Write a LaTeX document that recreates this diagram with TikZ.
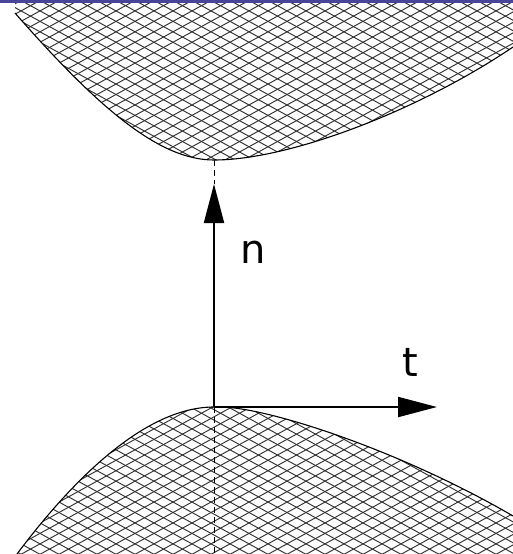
\documentclass[tikz,border=0pt]{standalone}
\usepackage{fontspec}
\newfontfamily\labelfont{DejaVu Sans}
\usetikzlibrary{arrows.meta}
\definecolor{barpurple}{RGB}{74,68,152}
\begin{document}
\begin{tikzpicture}[x=1pt,y=-1pt,
  hatchline/.style={line width=0.95pt, black!80},
  boundary/.style={line width=1.1pt},
  axisarrow/.style={line width=2pt, -{Triangle[length=39pt,width=20pt]}},
  guide/.style={line width=0.8pt, dash pattern=on 6pt off 4pt},
  lab/.style={font=\labelfont\fontsize{40}{48}\selectfont, inner sep=0pt}]
\useasboundingbox (0,0) rectangle (513,554);
% upper hatched region
\begin{scope}
\clip (15,0) -- (15,13) .. controls (100,110) and (160,160) .. (214,160)
      .. controls (290,160) and (420,110) .. (513,47) -- (513,0) -- cycle;
\foreach \c in {-1100,-1081,...,1600} {
  \draw[hatchline] (\c,-10) -- ++(1100,605);
  \draw[hatchline] (\c,-10) -- ++(-1100,605);
}
\end{scope}
% lower hatched region
\begin{scope}
\clip (17,554) .. controls (80,470) and (150,407) .. (214,407)
      .. controls (260,404) and (400,450) .. (513,516) -- (513,554) -- cycle;
\foreach \c in {-1100,-1081,...,1600} {
  \draw[hatchline] (\c,-10) -- ++(1100,605);
  \draw[hatchline] (\c,-10) -- ++(-1100,605);
}
\end{scope}
% boundaries
\draw[boundary] (15,13) .. controls (100,110) and (160,160) .. (214,160)
      .. controls (290,160) and (420,110) .. (513,47);
\draw[boundary] (17,554) .. controls (80,470) and (150,407) .. (214,407)
      .. controls (260,404) and (400,450) .. (513,516);
% points
\coordinate (top) at (214,160);
\coordinate (O) at (214,407);
\coordinate (ntip) at (214,184);
\coordinate (ttip) at (437,407);
\coordinate (bottom) at (214,554);
% guides
\draw[guide] (top) -- (ntip);
\draw[guide] (O) -- (bottom);
% axes
\draw[axisarrow] (O) -- (ntip);
\draw[axisarrow] (O) -- (ttip);
% labels
\node[lab] (nlab) at (253,252) {n};
\node[lab] (tlab) at (410,362) {t};
% top bar
\fill[barpurple] (0,0) rectangle (513,3);
\end{tikzpicture}
\end{document}
